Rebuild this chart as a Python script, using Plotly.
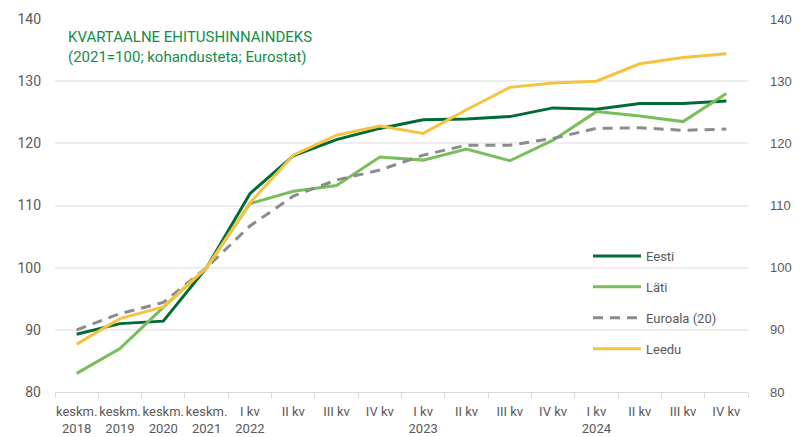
import plotly.graph_objects as go

categories = ["keskm. 2018", "keskm. 2019", "keskm. 2020", "keskm. 2021",
              "I kv 2022", "II kv 2022", "III kv 2022", "IV kv 2022",
              "I kv 2023", "II kv 2023", "III kv 2023", "IV kv 2023",
              "I kv 2024", "II kv 2024", "III kv 2024", "IV kv 2024"]
tick_labels = ["keskm.<br>2018", "keskm.<br>2019", "keskm.<br>2020", "keskm.<br>2021",
               "I kv<br>2022", "II kv", "III kv", "IV kv",
               "I kv<br>2023", "II kv", "III kv", "IV kv",
               "I kv<br>2024", "II kv", "III kv", "IV kv"]

eesti = [89.3, 91.0, 91.4, 100.0, 111.9, 118.0, 120.6, 122.4,
         123.8, 123.9, 124.3, 125.7, 125.5, 126.4, 126.4, 126.8]
lati = [83.0, 87.0, 93.6, 100.0, 110.3, 112.3, 113.2, 117.8,
        117.3, 119.1, 117.2, 120.5, 125.1, 124.4, 123.5, 128.0]
euroala = [90.0, 92.6, 94.4, 100.0, 106.7, 111.5, 114.1, 115.7,
           118.1, 119.7, 119.7, 120.8, 122.4, 122.5, 122.1, 122.3]
leedu = [87.7, 91.8, 93.7, 100.0, 110.4, 118.1, 121.3, 122.8,
         121.6, 125.4, 129.0, 129.7, 130.0, 132.8, 133.8, 134.4]

title_text = "KVARTAALNE EHITUSHINNAINDEKS<br>(2021=100; kohandusteta; Eurostat)"

TXT = "#595959"
FONT = "Roboto, 'Noto Sans', sans-serif"

# page body has an 8px margin; figure sized/offset to compensate
W, H = 797, 429
L, R, T, B = 47, 57, 11, 45
PW, PH = W - L - R, H - T - B

fig = go.Figure()
series = [
    ("Eesti", eesti, "#006B35", "solid"),
    ("Läti", lati, "#78BE5A", "solid"),
    ("Euroala (20)", euroala, "#8C8C8C", "10px,7px"),
    ("Leedu", leedu, "#F5C242", "solid"),
]
for i, (name, vals, col, dash) in enumerate(series):
    fig.add_trace(go.Scatter(
        x=categories, y=vals, name=name, mode="lines",
        line=dict(color=col, width=3, dash=dash),
        legendgroup=name, legendrank=i + 1,
    ))

# invisible trace to carry right axis
fig.add_trace(go.Scatter(x=categories, y=eesti, yaxis="y2", mode="lines",
                         line=dict(width=0), opacity=0, showlegend=False,
                         hoverinfo="skip"))

fig.add_annotation(
    text=title_text, xref="paper", yref="paper",
    x=(58 - L) / PW, y=(PH + T - 18) / PH, xanchor="left", yanchor="top",
    align="left", showarrow=False,
    font=dict(family=FONT, size=15, color="#168C4A"),
)

fig.update_layout(
    width=W, height=H,
    margin=dict(l=L, r=R, t=T, b=B, autoexpand=False),
    paper_bgcolor="white", plot_bgcolor="white",
    font=dict(family=FONT, size=13, color=TXT),
    xaxis=dict(
        type="category", categoryorder="array", categoryarray=categories,
        tickmode="array", tickvals=categories, ticktext=tick_labels,
        tickangle=0, range=[-0.5, 15.5], tickson="boundaries",
        ticks="outside", ticklen=5, tickcolor="#D9D9D9",
        showline=True, linecolor="#D9D9D9", linewidth=1,
        showgrid=False, automargin=False, ticklabelstandoff=7,
        tickfont=dict(family=FONT, size=13, color=TXT),
    ),
    yaxis=dict(
        range=[80, 140], dtick=10, tick0=80,
        showgrid=True, gridcolor="#EDEDED", gridwidth=1.5,
        zeroline=False, showline=False, ticks="", automargin=False,
        tickfont=dict(family=FONT, size=14, color=TXT),
        ticklabelstandoff=13,
    ),
    yaxis2=dict(
        range=[80, 140], dtick=10, tick0=80, overlaying="y", side="right",
        showgrid=False, zeroline=False, showline=False, ticks="", automargin=False,
        tickfont=dict(family="'Liberation Sans', Arial, sans-serif", size=13, color=TXT),
        ticklabelstandoff=21,
    ),
    legend=dict(
        x=(580 - L) / PW, y=(PH + T - 233) / PH, xanchor="left", yanchor="top",
        bgcolor="rgba(0,0,0,0)", tracegroupgap=11,
        font=dict(family=FONT, size=13, color=TXT),
        itemwidth=48,
    ),
    showlegend=True,
)

fig.write_html("out.html")
